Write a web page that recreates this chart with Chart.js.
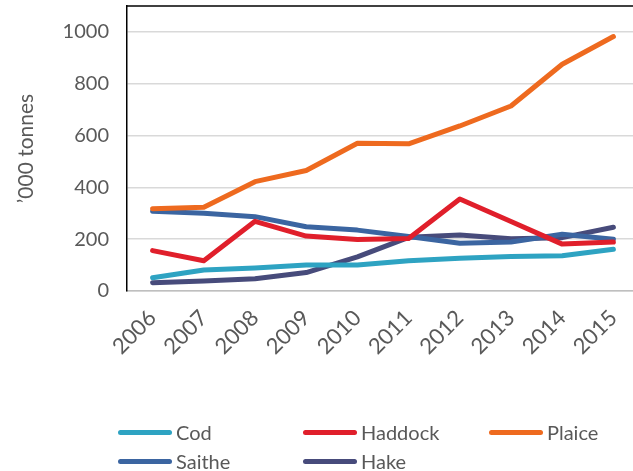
<!DOCTYPE html>
<html>
<head>
<meta charset="utf-8">
<title>Landings by species</title>
<script src="https://cdn.jsdelivr.net/npm/chart.js@4/dist/chart.umd.min.js"></script>
<style>
  html, body { margin: 0; padding: 0; background: #fff; overflow: hidden; }
  #wrap { position: relative; width: 633px; height: 471px; overflow: hidden; }
  #chart { position: absolute; left: 0; top: 0; }
  #legend {
    position: absolute; left: 118px; top: 419px; width: 520px;
    display: grid; grid-template-columns: 185px 186px 150px; row-gap: 3px;
    font-family: Lato, sans-serif; font-size: 20px; color: #595959;
  }
  .legend-item { display: flex; align-items: center; height: 26px; white-space: nowrap; }
  .legend-line { width: 54px; height: 5px; border-radius: 3px; margin-right: 4px; }
</style>
</head>
<body>
<div id="wrap">
  <canvas id="chart" width="640" height="471"></canvas>
  <div id="legend"></div>
</div>
<script>
// ── Data ─────────────────────────────────────
const years   = ['2006', '2007', '2008', '2009', '2010', '2011', '2012', '2013', '2014', '2015'];
const cod     = [51, 81, 89, 100, 100, 117, 126, 133, 136, 161];
const haddock = [156, 117, 269, 212, 199, 203, 355, 268, 181, 189];
const plaice  = [317, 323, 422, 465, 570, 568, 637, 714, 875, 982];
const saithe  = [308, 300, 287, 248, 235, 210, 184, 189, 219, 200];
const hake    = [32, 39, 47, 71, 132, 207, 216, 202, 206, 246];
const yTicks  = [0, 200, 400, 600, 800, 1000];

const seriesNames  = ['Cod', 'Haddock', 'Plaice', 'Saithe', 'Hake'];
const seriesData   = [cod, haddock, plaice, saithe, hake];
const seriesColors = ['#2ea3c2', '#e01f2b', '#ee6a1f', '#3b65a1', '#474b7b'];

const textColor = '#595959';
const font = { family: 'Lato, sans-serif', size: 20 };

// ── Top frame line ───────────────────────────
const topFrame = {
    id: 'topFrame',
    afterDraw(chart) {
        const { ctx, chartArea } = chart;
        ctx.save();
        ctx.strokeStyle = '#000';
        ctx.lineWidth = 1.5;
        ctx.beginPath();
        ctx.moveTo(chartArea.left, chartArea.top);
        ctx.lineTo(chartArea.right + 5, chartArea.top);
        ctx.stroke();
        ctx.restore();
    }
};

new Chart(document.getElementById('chart'), {
    type: 'line',
    data: {
        labels: years,
        datasets: seriesNames.map((name, i) => ({
            label: name,
            data: seriesData[i],
            borderColor: seriesColors[i],
            backgroundColor: seriesColors[i],
            borderWidth: 5,
            borderCapStyle: 'round',
            borderJoinStyle: 'round',
            pointRadius: 0,
            tension: 0
        }))
    },
    options: {
        responsive: false,
        animation: false,
        layout: { padding: { top: 6, right: 1, left: 0, bottom: 0 } },
        plugins: { legend: { display: false }, tooltip: { enabled: false } },
        scales: {
            x: {
                offset: true,
                grid: { display: false },
                border: { color: '#bfbfbf', width: 1.5 },
                ticks: {
                    color: textColor,
                    font: { family: font.family, size: 22 },
                    minRotation: 45, maxRotation: 45,
                    padding: 6
                },
                afterFit(scale) { scale.height = 180; }
            },
            y: {
                min: 0,
                max: 1100,
                afterBuildTicks(scale) { scale.ticks = yTicks.map(v => ({ value: v })); },
                grid: { color: '#d9d9d9', lineWidth: 1.5, drawTicks: false },
                border: { color: '#000', width: 1.5 },
                ticks: {
                    color: textColor,
                    font: font,
                    padding: 18,
                    callback: (v) => String(v)
                },
                title: {
                    display: true,
                    text: '’000 tonnes',
                    color: textColor,
                    font: { family: font.family, size: 21 },
                    padding: { top: 14, bottom: 0 }
                },
                afterFit(scale) {
                    scale.width = 127;
                    scale.paddingTop = 0;
                    scale.paddingBottom = 0;
                }
            }
        }
    },
    plugins: [topFrame]
});

// ── Legend ───────────────────────────────────
const legendEl = document.getElementById('legend');
seriesNames.forEach((name, i) => {
    legendEl.innerHTML += `
        <div class="legend-item">
            <span class="legend-line" style="background:${seriesColors[i]}"></span>${name}
        </div>`;
});
</script>
</body>
</html>
